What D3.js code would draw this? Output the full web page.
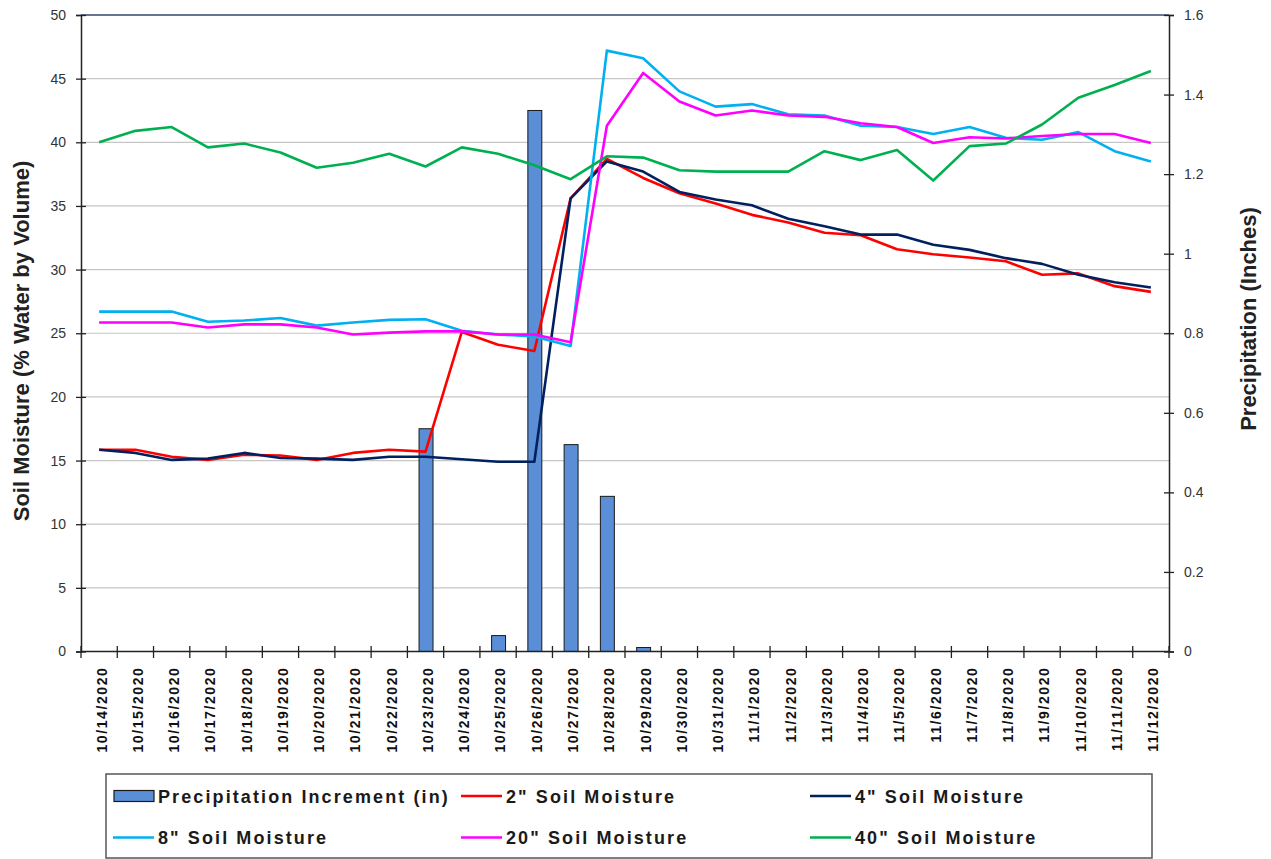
<!DOCTYPE html>
<html>
<head>
<meta charset="utf-8">
<script src="https://cdn.jsdelivr.net/npm/d3@7"></script>
<style>
  body { margin: 0; background: #fff; }
  svg { font-family: Arial, "Liberation Sans", sans-serif; }
</style>
</head>
<body>
<div id="vis"></div>
<script>
// dates on the category axis
var dates = ["10/14/2020","10/15/2020","10/16/2020","10/17/2020","10/18/2020","10/19/2020","10/20/2020",
  "10/21/2020","10/22/2020","10/23/2020","10/24/2020","10/25/2020","10/26/2020","10/27/2020","10/28/2020",
  "10/29/2020","10/30/2020","10/31/2020","11/1/2020","11/2/2020","11/3/2020","11/4/2020","11/5/2020",
  "11/6/2020","11/7/2020","11/8/2020","11/9/2020","11/10/2020","11/11/2020","11/12/2020"];

// precipitation increment (in), right axis
var precip = [0,0,0,0,0,0,0,0,0,0.56,0,0.04,1.36,0.52,0.39,0.01,0,0,0,0,0,0,0,0,0,0,0,0,0,0];

// soil moisture (% water by volume), left axis
var sm2 = [15.85,15.85,15.3,15.05,15.45,15.4,15.05,15.6,15.85,15.7,
  25.1,24.1,23.6,35.6,38.7,37.2,36.0,35.2,
  34.3,33.7,32.9,32.7,31.6,31.2,30.95,30.65,29.6,29.7,28.7,28.25];
var sm4 = [15.85,15.6,15.05,15.15,15.6,15.2,15.15,15.05,15.3,15.3,
  15.1,14.9,14.9,35.6,38.5,37.7,36.1,35.5,
  35.05,34.0,33.4,32.75,32.75,31.95,31.55,30.9,30.45,29.6,29.0,28.6];
var sm8 = [26.7,26.7,26.7,25.9,26.0,26.2,25.6,25.85,26.05,26.1,
  25.2,24.9,24.75,24.0,47.2,46.6,44.0,42.8,
  43.0,42.2,42.1,41.3,41.2,40.65,41.2,40.35,40.2,40.8,39.3,38.5];
var sm20 = [25.85,25.85,25.85,25.45,25.7,25.7,25.45,24.9,25.05,25.15,
  25.15,24.9,24.9,24.3,41.3,45.45,43.2,42.1,
  42.5,42.1,42.0,41.5,41.2,39.95,40.4,40.3,40.5,40.65,40.65,39.95];
var sm40 = [40.0,40.9,41.2,39.6,39.9,39.2,38.0,38.4,39.1,38.1,
  39.6,39.1,38.2,37.1,38.9,38.8,37.8,37.7,
  37.7,37.7,39.3,38.6,39.4,37.0,39.7,39.9,41.4,43.5,44.5,45.6];

var seriesNames = ['2" Soil Moisture','4" Soil Moisture','8" Soil Moisture','20" Soil Moisture','40" Soil Moisture'];
var seriesValues = [sm2, sm4, sm8, sm20, sm40];
var seriesColors = ["#ff0000","#002060","#00b0f0","#ff00ff","#00b050"];
var barColor = "#5a8ed6";

var W = 1271, H = 859;
var plotL = 81, plotR = 1169, plotT = 15, plotB = 651.5;

var svg = d3.select("#vis").append("svg").attr("width", W).attr("height", H);

var x = d3.scaleBand().domain(dates).range([plotL, plotR]).padding(0);
var yL = d3.scaleLinear().domain([0, 50]).range([plotB, plotT]);
var yR = d3.scaleLinear().domain([0, 1.6]).range([plotB, plotT]);

// gridlines
svg.append("g").selectAll("line")
  .data(d3.range(5, 50, 5))
  .join("line")
  .attr("x1", plotL).attr("x2", plotR)
  .attr("y1", d => yL(d)).attr("y2", d => yL(d))
  .attr("stroke", "#c6c6c6").attr("stroke-width", 1.2);

// top border of plot area
svg.append("line")
  .attr("x1", plotL).attr("x2", plotR).attr("y1", yL(50)).attr("y2", yL(50))
  .attr("stroke", "#34466e").attr("stroke-width", 1.5);

// bars
var barW = x.bandwidth() * 0.385;
svg.append("g").selectAll("rect")
  .data(precip.map((v, i) => ({d: dates[i], v: v})).filter(o => o.v > 0))
  .join("rect")
  .attr("x", o => x(o.d) + x.bandwidth() / 2 - barW / 2 + 0.5)
  .attr("width", barW)
  .attr("y", o => yR(o.v))
  .attr("height", o => yR(0) - yR(o.v))
  .attr("fill", barColor).attr("stroke", "#1a1a1a").attr("stroke-width", 1);

// left axis
var gL = svg.append("g").attr("transform", "translate(" + plotL + ",0)")
  .call(d3.axisLeft(yL).tickValues(d3.range(0, 51, 5)).tickSize(5).tickPadding(10));
gL.selectAll(".tick line").attr("x1", -5).attr("x2", 5);
gL.selectAll(".tick text").style("font-size", "14px").attr("fill", "#333");
gL.select(".domain").attr("stroke", "#222").attr("stroke-width", 1.5);
gL.selectAll(".tick line").attr("stroke", "#222").attr("stroke-width", 1.3);

// right axis
var gR = svg.append("g").attr("transform", "translate(" + plotR + ",0)")
  .call(d3.axisRight(yR).tickValues(d3.range(0, 1.61, 0.2)).tickSize(5).tickPadding(10)
    .tickFormat(d => d3.format("~g")(+d.toFixed(1))));
gR.selectAll(".tick line").attr("x1", -5).attr("x2", 5);
gR.selectAll(".tick text").style("font-size", "14px").attr("fill", "#333");
gR.select(".domain").attr("stroke", "#222").attr("stroke-width", 1.5);
gR.selectAll(".tick line").attr("stroke", "#222").attr("stroke-width", 1.3);

// bottom axis with ticks at category boundaries
svg.append("line").attr("x1", plotL).attr("x2", plotR).attr("y1", plotB).attr("y2", plotB)
  .attr("stroke", "#222").attr("stroke-width", 1.5);
svg.append("g").selectAll("line")
  .data(dates.concat(["end"]))
  .join("line")
  .attr("x1", (d, i) => plotL + i * x.bandwidth()).attr("x2", (d, i) => plotL + i * x.bandwidth())
  .attr("y1", plotB - 5.5).attr("y2", plotB + 6.5)
  .attr("stroke", "#222").attr("stroke-width", 1.3);

svg.append("g").selectAll("text")
  .data(dates)
  .join("text")
  .attr("transform", d => "translate(" + (x(d) + x.bandwidth() / 2 + 2.5) + "," + (plotB + 15) + ") rotate(-90)")
  .attr("text-anchor", "end")
  .attr("dy", "0.35em")
  .style("font-size", "14px").style("font-weight", "bold").style("letter-spacing", "1.6px")
  .attr("fill", "#111")
  .text(d => d);

// lines
var line = d3.line().x((v, i) => x(dates[i]) + x.bandwidth() / 2).y(v => yL(v));
svg.append("g").selectAll("path")
  .data(seriesValues)
  .join("path")
  .attr("d", d => line(d))
  .attr("fill", "none")
  .attr("stroke", (d, i) => seriesColors[i])
  .attr("stroke-width", 2.6)
  .attr("stroke-linejoin", "round");

// axis titles
svg.append("text")
  .attr("transform", "translate(21,341) rotate(-90)")
  .attr("text-anchor", "middle").attr("dy", "0.35em")
  .style("font-size", "22px").style("font-weight", "bold").attr("fill", "#222")
  .text("Soil Moisture (% Water by Volume)");
svg.append("text")
  .attr("transform", "translate(1248,319) rotate(-90)")
  .attr("text-anchor", "middle").attr("dy", "0.35em")
  .style("font-size", "22px").style("font-weight", "bold").attr("fill", "#222")
  .text("Precipitation (Inches)");

// legend
svg.append("rect")
  .attr("x", 106).attr("y", 774).attr("width", 1046).attr("height", 84)
  .attr("fill", "#fff").attr("stroke", "#555").attr("stroke-width", 1.5);

var legendItems = [
  {name: "Precipitation Increment (in)", type: "bar", color: barColor, x: 114, row: 0},
  {name: seriesNames[0], type: "line", color: seriesColors[0], x: 461, row: 0},
  {name: seriesNames[1], type: "line", color: seriesColors[1], x: 810, row: 0},
  {name: seriesNames[2], type: "line", color: seriesColors[2], x: 113, row: 1},
  {name: seriesNames[3], type: "line", color: seriesColors[3], x: 461, row: 1},
  {name: seriesNames[4], type: "line", color: seriesColors[4], x: 810, row: 1}
];
var rowY = [796, 837.5];
var lg = svg.append("g").selectAll("g").data(legendItems).join("g");
lg.filter(d => d.type === "bar").append("rect")
  .attr("x", d => d.x).attr("y", d => rowY[d.row] - 5.5).attr("width", 40).attr("height", 11)
  .attr("fill", d => d.color).attr("stroke", "#1a1a1a").attr("stroke-width", 1.2);
lg.filter(d => d.type === "line").append("line")
  .attr("x1", d => d.x).attr("x2", d => d.x + 41)
  .attr("y1", d => rowY[d.row]).attr("y2", d => rowY[d.row])
  .attr("stroke", d => d.color).attr("stroke-width", 2.6);
lg.append("text")
  .attr("x", d => d.x + (d.type === "bar" ? 44 : 45))
  .attr("y", d => rowY[d.row] + 6.5)
  .style("font-size", "18px").style("font-weight", "bold").style("letter-spacing", "2.1px")
  .attr("fill", "#1a1a1a")
  .text(d => d.name);
</script>
</body>
</html>
